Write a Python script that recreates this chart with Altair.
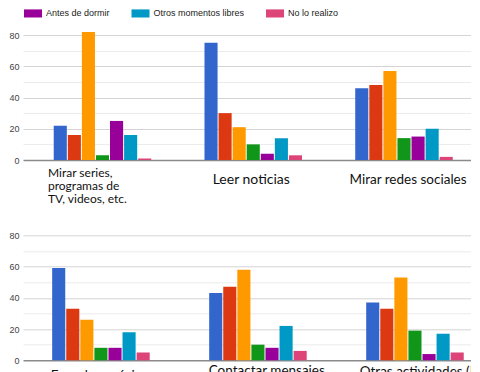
import altair as alt
import pandas as pd

# ---- data -------------------------------------------------------------
series = ["Al despertar", "En el transporte", "Durante las comidas", "En clase o trabajo",
          "Antes de dormir", "Otros momentos libres", "No lo realizo"]
colors = ["#3366cc", "#dc3912", "#ff9900", "#109618", "#990099", "#0099c6", "#dd4477"]
legend_shown = ["Antes de dormir", "Otros momentos libres", "No lo realizo"]

top_cats = ["Mirar series, programas de TV, videos, etc.", "Leer noticias", "Mirar redes sociales"]
top_lines = [["Mirar series,", "programas de", "TV, videos, etc."], ["Leer noticias"], ["Mirar redes sociales"]]
top_blue = [22, 75, 46]
top_red = [16, 30, 48]
top_orange = [82, 21, 57]
top_green = [3, 10, 14]
top_purple = [25, 4, 15]
top_cyan = [16, 14, 20]
top_pink = [1, 3, 2]

bottom_cats = ["Escuchar música", "Contactar mensajes", "Otras actividades (Ej"]
bottom_lines = [["Escuchar música"], ["Contactar mensajes"], ["Otras actividades (Ej"]]
bottom_blue = [59, 43, 37]
bottom_red = [33, 47, 33]
bottom_orange = [26, 58, 53]
bottom_green = [8, 10, 19]
bottom_purple = [8, 8, 4]
bottom_cyan = [18, 22, 17]
bottom_pink = [5, 6, 5]

top_series = [top_blue, top_red, top_orange, top_green, top_purple, top_cyan, top_pink]
bottom_series = [bottom_blue, bottom_red, bottom_orange, bottom_green, bottom_purple, bottom_cyan, bottom_pink]


def frame(cats, rows):
    recs = []
    for s, vals in zip(series, rows):
        for c, v in zip(cats, vals):
            recs.append({"actividad": c, "momento": s, "valor": v})
    return pd.DataFrame(recs)


def cond(cats, vals, default):
    return {"condition": [{"test": f"datum.value === '{c}'", "value": v} for c, v in zip(cats, vals)],
            "value": default}


def label_expr(cats, lines):
    expr = "datum.label"
    for c, l in zip(cats, lines):
        arr = "[" + ", ".join(f"'{x}'" for x in l) + "]"
        expr = f"datum.value === '{c}' ? {arr} : ({expr})"
    return expr


color_enc = alt.Color(
    "momento:N", sort=series,
    scale=alt.Scale(domain=series, range=colors),
    legend=alt.Legend(
        values=legend_shown, title=None, orient="none", direction="horizontal", columns=3,
        legendX=5.5, legendY=-26.3, padding=0,
        symbolType="M-2,-0.9L2,-0.9L2,0.9L-2,0.9Z", symbolSize=81, symbolStrokeWidth=0,
        labelOffset=8.5, columnPadding=20.5, labelFont="Liberation Sans", labelFontSize=9,
        labelColor="#222222",
    ),
)

y_axis = alt.Axis(
    values=list(range(0, 81, 10)),
    labelExpr="datum.value % 20 === 0 ? datum.label : ''",
    title=None, domain=False, ticks=False, labelPadding=4,
    labelFont="Liberation Sans", labelFontSize=9, labelColor="#444444",
    gridColor={"condition": [{"test": "datum.value === 0", "value": "#8a8a8a"},
                             {"test": "datum.value % 20 === 0", "value": "#d4d4d4"}],
               "value": "#ececec"},
    gridWidth={"condition": {"test": "datum.value === 0", "value": 1.6}, "value": 1},
)


def panel(cats, lines, rows, pin, pout, align, offsets, paddings, aligns, sizes):
    x_axis = alt.Axis(
        title=None, domain=False, ticks=False, grid=False, labelAngle=0,
        labelExpr=label_expr(cats, lines), labelFont="Lato", labelColor="#111111",
        labelBaseline="top", labelLineHeight=13.3, labelLimit=0, labelOverlap=False, labelBound=False,
        labelFontSize=cond(cats, sizes, 14),
        labelOffset=cond(cats, offsets, 0),
        labelPadding=cond(cats, paddings, 8),
        labelAlign=cond(cats, aligns, "center"),
    )
    return alt.Chart(frame(cats, rows)).mark_bar(clip=False).encode(
        x=alt.X("actividad:N", sort=cats, axis=x_axis,
                scale=alt.Scale(domain=cats, paddingInner=pin, paddingOuter=pout, align=align)),
        xOffset=alt.XOffset("momento:N", sort=series,
                            scale=alt.Scale(domain=series, paddingInner=0.07, paddingOuter=0)),
        y=alt.Y("valor:Q", axis=y_axis, scale=alt.Scale(domain=[0, 80], nice=False)),
        color=color_enc,
    ).properties(width=450, height=125)


top = panel(top_cats, top_lines, top_series, 0.353, 0.169, 0.603,
            [-54.5, -2, 4], [7, 12, 12], ["left", "center", "center"], [12, 14, 13.5])
bottom = panel(bottom_cats, bottom_lines, bottom_series, 0.382, 0.124, 0.749,
               [-50, -49, -55], [8, 3.5, 4.5], ["left", "left", "left"], [13.5, 13.5, 13.5])

chart = alt.vconcat(top, bottom, spacing=75.3, bounds="flush").properties(
    padding={"left": 0, "top": 0, "right": -10, "bottom": 0}
).configure_view(stroke=None)

chart.save("out.html", embed_options={"renderer": "svg", "actions": False})
